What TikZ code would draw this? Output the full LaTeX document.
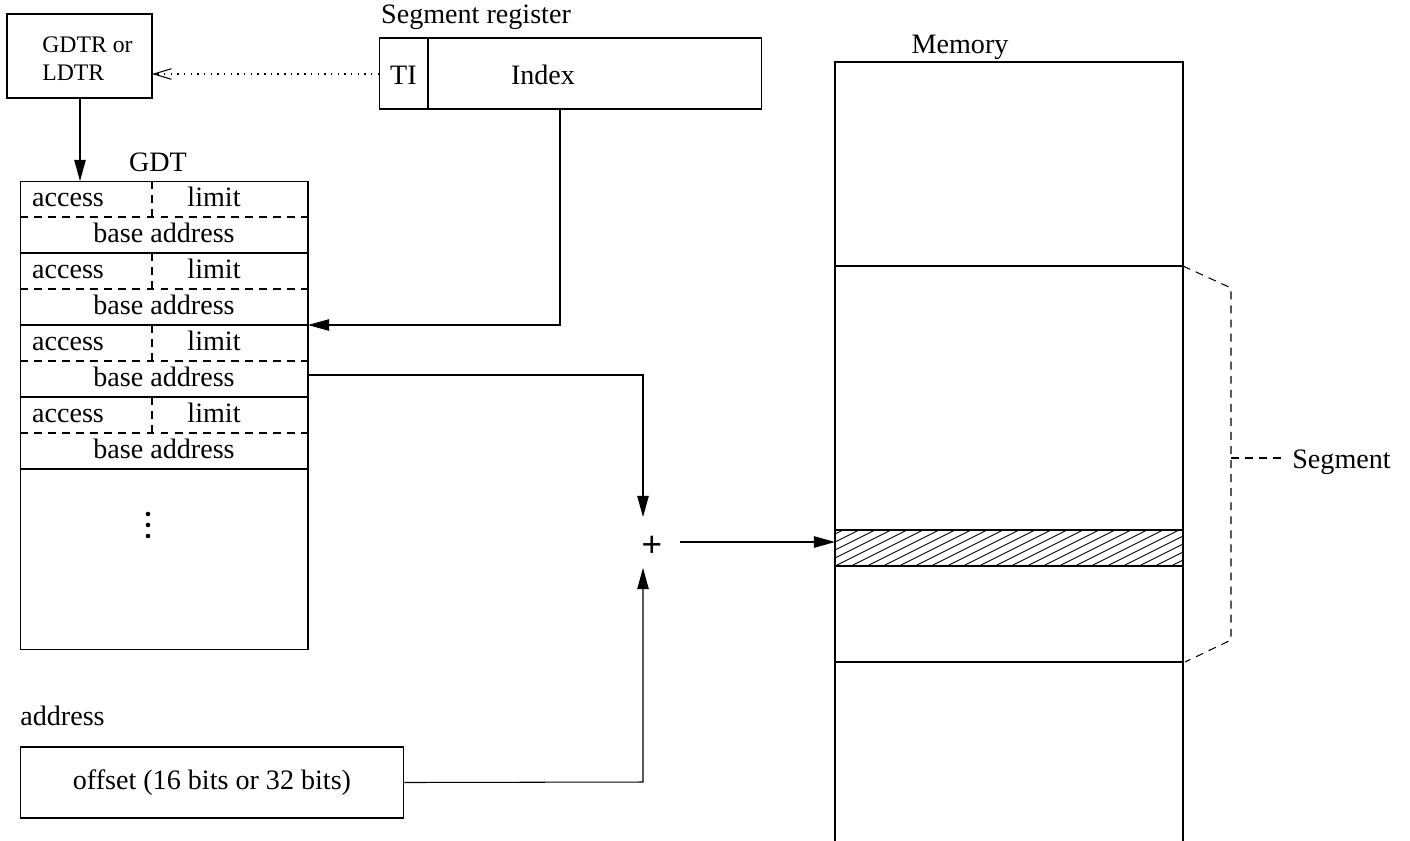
\documentclass[tikz,border=0pt]{standalone}
\usepackage{fontspec}
\setmainfont{Liberation Serif}
\newfontfamily\plusfont{Liberation Sans}
\usetikzlibrary{arrows.meta}
\tikzset{
  lw/.style={line width=0.6pt},
  box/.style={draw, lw, inner sep=0pt, rectangle},
  txt/.style={inner sep=0pt, font=\fontsize{16}{19}\selectfont},
  small/.style={inner sep=0pt, font=\fontsize{13.5}{16}\selectfont, align=left},
  dsh/.style={lw, dash pattern=on 4.5pt off 3.5pt},
  dot/.style={lw, dash pattern=on 0.8pt off 3pt},
  arr/.style={lw, -{Triangle[length=12pt,width=6.5pt]}},
  openarr/.style={-{Straight Barb[length=10pt,width=6pt,line width=0.6pt]}},
  bigdot/.style={circle, fill, inner sep=0pt, minimum size=2.6pt}
}
\begin{document}
\begin{tikzpicture}[x=0.02cm, y=-0.02cm]
\useasboundingbox (0,0) rectangle (1410,840);
% GDTR box
\node[box, minimum width=2.9cm, minimum height=1.68cm] (gdtr) at (79.5,56) {};
\node[small, anchor=west] (gdtrt) at (42,59) {GDTR or\\LDTR};
% Segment register
\node[txt] (seglab) at (476,17) {Segment register};
\node[box, minimum width=7.66cm, minimum height=1.42cm] (segreg) at (570.5,73.5) {};
\draw[lw] (428,38) -- (428,109);
\node[txt, anchor=base] (ti) at (403.5,84) {TI};
\node[txt, anchor=base] (idx) at (543,84) {Index};
\coordinate (tiw) at (379,74);
\coordinate (gdtre) at (152,74);
\draw[dot, openarr] (tiw) -- (gdtre);
% GDT
\node[txt] (gdtlab) at (158,162) {GDT};
\node[box, minimum width=5.76cm, minimum height=9.38cm] (gdt) at (164,415.5) {};
\coordinate (gdttop) at (80,181);
\draw[arr] (80,98) -- (gdttop);
\foreach \i in {0,1,2,3}{
  \pgfmathsetmacro{\t}{181+72*\i}
  \draw[lw] (20,\t+72) -- (308,\t+72);
  \draw[dsh] (20,\t+36) -- (308,\t+36);
  \draw[dsh] (152,\t) -- (152,\t+36);
  \node[txt, anchor=base] (acc\i) at (68,\t+25) {access};
  \node[txt, anchor=base] (lim\i) at (214,\t+25) {limit};
  \node[txt, anchor=base] (base\i) at (164,\t+61) {base address};
}
\node[bigdot] (d1) at (148,514) {};
\node[bigdot] (d2) at (148,525) {};
\node[bigdot] (d3) at (148,536) {};
% Index arrow
\coordinate (idxb) at (560,109);
\coordinate (row2) at (308,325);
\draw[arr] (idxb) -- (560,325) -- (row2);
% plus
\node[inner sep=0pt, font=\plusfont\fontsize{20}{24}\selectfont] (plus) at (652,546) {+};
\coordinate (baseout) at (308,375);
\coordinate (plustop) at (643,517);
\coordinate (plusbot) at (643,568);
\draw[arr] (baseout) -- (643,375) -- (plustop);
% offset
\node[txt, anchor=west] (addrlab) at (20,716) {address};
\node[box, minimum width=7.68cm, minimum height=1.42cm] (offset) at (212,782.5) {};
\node[txt, anchor=base] (offt) at (212,789) {offset (16 bits or 32 bits)};
\draw[arr] (offset.east) -- (643,782) -- (plusbot);
% Memory
\node[txt] (memlab) at (960,47) {Memory};
\draw[lw] (835,842) -- (835,62) -- (1183,62) -- (1183,842);
\draw[lw] (835,266) -- (1183,266);
\draw[lw] (835,662) -- (1183,662);
\begin{scope}
  \clip (835,530) rectangle (1183,566);
  \foreach \x in {755,771,...,1200}{
    \draw[line width=0.5pt] (\x,566) -- (\x+72,530);
  }
\end{scope}
\draw[lw] (835,530) rectangle (1183,566);
\coordinate (plusr) at (680,542);
\coordinate (meml) at (835,542);
\draw[arr] (plusr) -- (meml);
% Segment bracket
\draw[dsh] (1183,266) -- (1231,288) -- (1231,640) -- (1185,662);
\draw[dsh] (1231,458) -- (1282,458);
\node[txt, anchor=west] (seglabel) at (1292,462) {Segment};
\end{tikzpicture}
\end{document}
